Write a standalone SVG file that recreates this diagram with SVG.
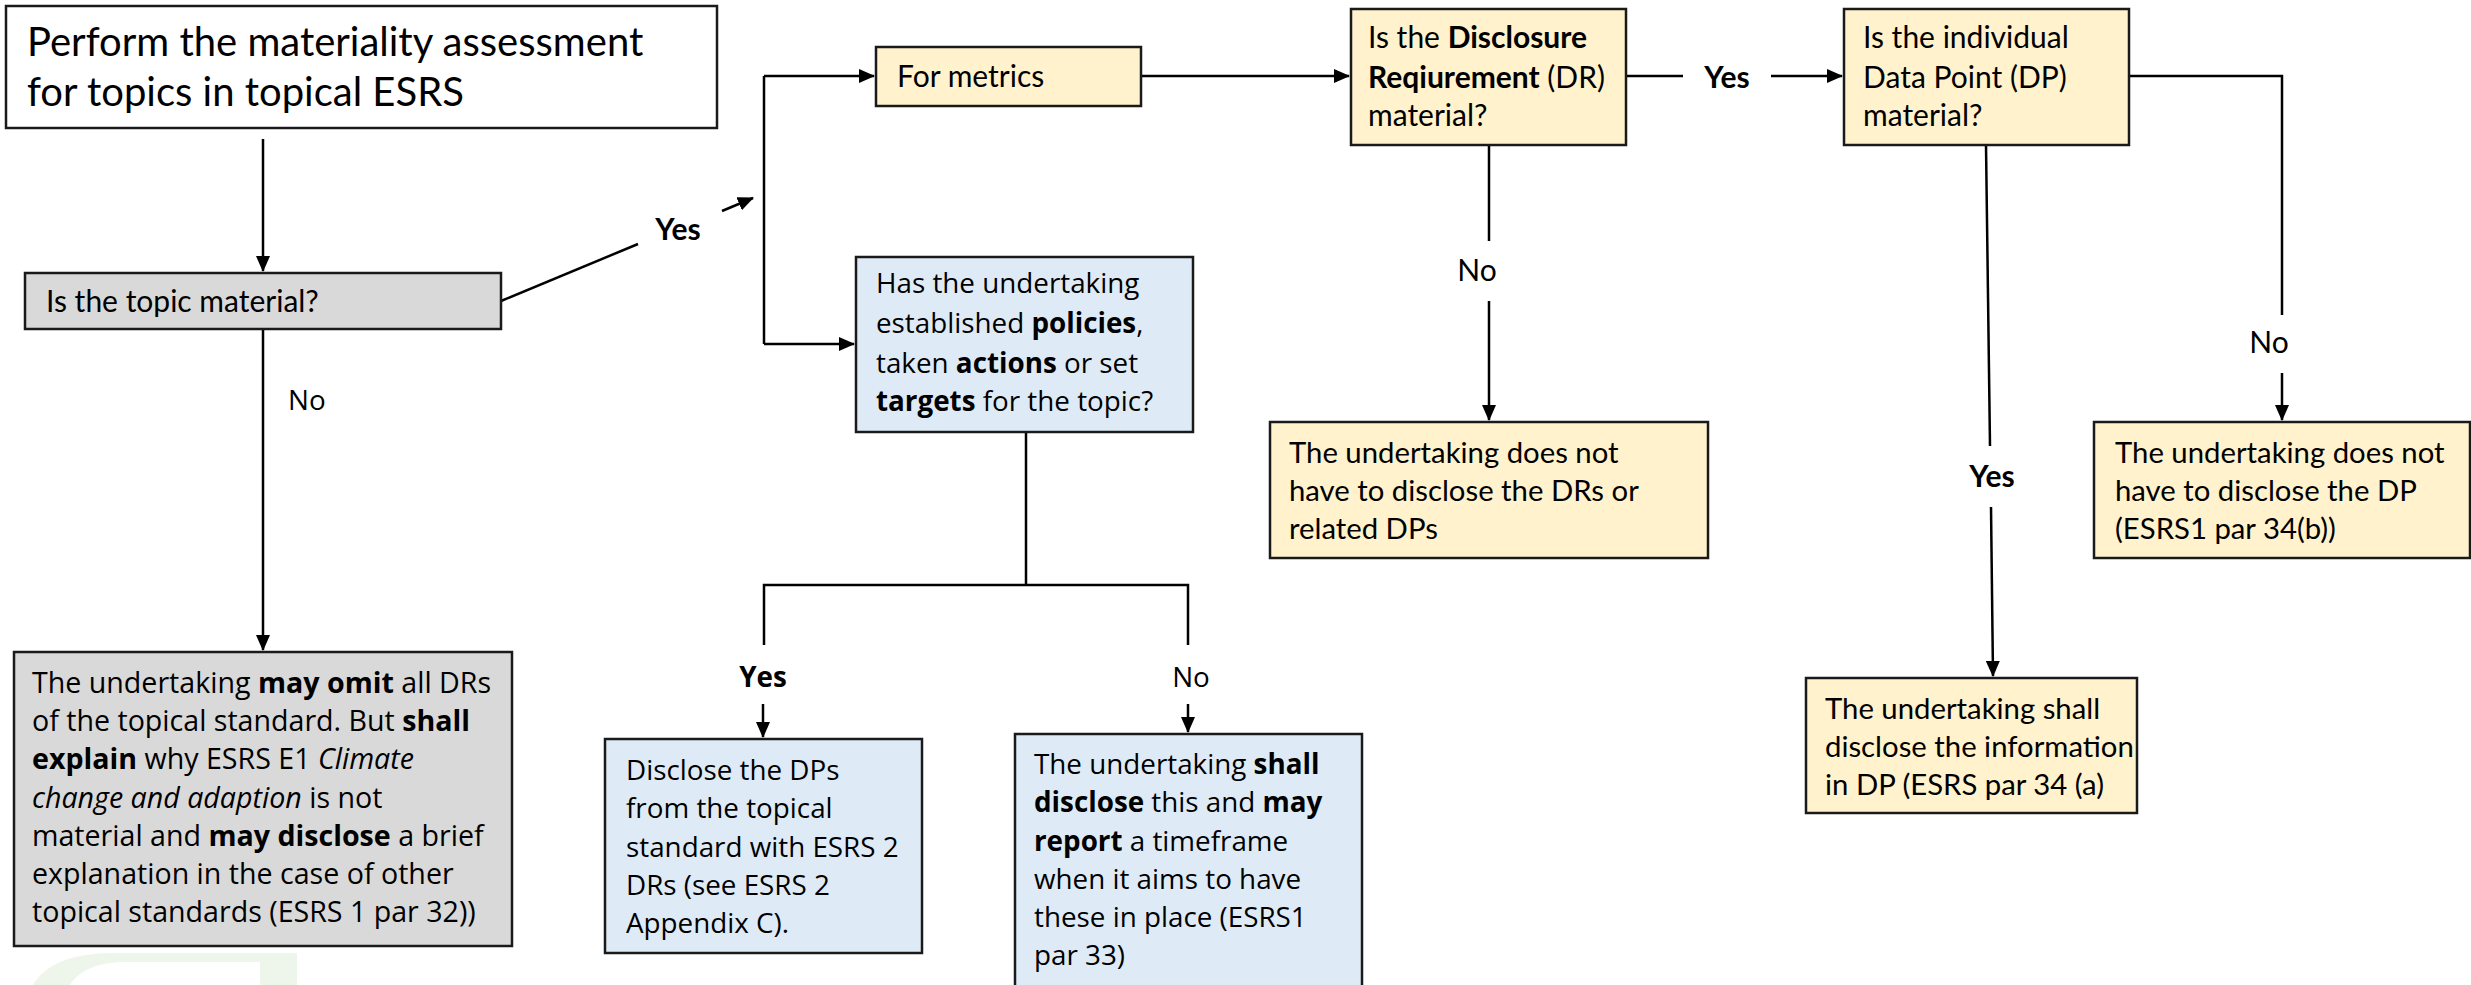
<svg xmlns="http://www.w3.org/2000/svg" width="2471" height="985" viewBox="0 0 2471 985">
<style>
.box{stroke:#1a1a1a;stroke-width:2.5}
.grey{fill:#d9d9d9}
.yel{fill:#fff2cc}
.blue{fill:#deebf7}
.c{font-family:Lato,"Liberation Sans",sans-serif;font-size:30px;fill:#000}
.r{font-size:29.3px}
.s{font-family:"Open Sans","Liberation Sans",sans-serif;font-size:27.8px;fill:#000}
.g{font-size:28.6px}
.b{font-weight:bold}
.i{font-style:italic}
.m{text-anchor:middle}
.conn{fill:none;stroke:#000;stroke-width:2.5}
</style>
<defs>
<marker id="ah" markerUnits="userSpaceOnUse" markerWidth="16" markerHeight="14" refX="15" refY="7" orient="auto">
<path d="M0,0 L16,7 L0,14 Z" fill="#000"/>
</marker>
</defs>
<rect width="2471" height="985" fill="#fff"/>
<path d="M33,985 C45,965 70,953 115,953 L297,953 L297,985 L260,985 L260,962 L125,962 C95,962 78,972 70,985 Z" fill="#eef5ea"/>

<g id="connectors">
<path class="conn" d="M263,139 V271" marker-end="url(#ah)"/>
<path class="conn" d="M501,301 L638,244"/>
<path class="conn" d="M722,211 L753,198" marker-end="url(#ah)"/>
<path class="conn" d="M764,76 V344"/>
<path class="conn" d="M764,76 H874" marker-end="url(#ah)"/>
<path class="conn" d="M764,344 H854" marker-end="url(#ah)"/>
<path class="conn" d="M1141,76 H1349" marker-end="url(#ah)"/>
<path class="conn" d="M1626,76 H1683"/>
<path class="conn" d="M1771,76 H1842" marker-end="url(#ah)"/>
<path class="conn" d="M1489,145 V241"/>
<path class="conn" d="M1489,301 V420" marker-end="url(#ah)"/>
<path class="conn" d="M2129,76 H2282 V315"/>
<path class="conn" d="M2282,373 V420" marker-end="url(#ah)"/>
<path class="conn" d="M1986,145 L1990,446"/>
<path class="conn" d="M1991,507 L1993,676" marker-end="url(#ah)"/>
<path class="conn" d="M263,329 V650" marker-end="url(#ah)"/>
<path class="conn" d="M1026,432 V585"/>
<path class="conn" d="M764,645 V585 H1188 V645"/>
<path class="conn" d="M763,704 V737" marker-end="url(#ah)"/>
<path class="conn" d="M1188,704 V732" marker-end="url(#ah)"/>
</g>

<g id="labels">
<text class="c b m" x="678" y="240">Yes</text>
<text class="s" x="288" y="410">No</text>
<text class="c m" x="1477" y="281">No</text>
<text class="c b m" x="1727" y="88">Yes</text>
<text class="c m" x="2269" y="353">No</text>
<text class="c b m" x="1992" y="487">Yes</text>
<text class="s b m" x="763" y="687">Yes</text>
<text class="s m" x="1191" y="687">No</text>
</g>

<g id="start">
<rect class="box" x="6" y="6" width="711" height="122" fill="#fff"/>
<text class="c" style="font-size:40px" x="27" y="56">Perform the materiality assessment</text>
<text class="c" style="font-size:40px" x="27" y="106">for topics in topical ESRS</text>
</g>

<g id="topic">
<rect class="box grey" x="25" y="273" width="476" height="56"/>
<text class="c" x="46" y="312">Is the topic material?</text>
</g>

<g id="omit">
<rect class="box grey" x="14" y="652" width="498" height="294"/>
<text class="s g" x="32" y="693">The undertaking <tspan class="b">may omit</tspan> all DRs</text>
<text class="s g" x="32" y="731">of the topical standard. But <tspan class="b">shall</tspan></text>
<text class="s g" x="32" y="769"><tspan class="b">explain</tspan> why ESRS E1 <tspan class="i">Climate</tspan></text>
<text class="s g" x="32" y="808"><tspan class="i">change and adaption</tspan> is not</text>
<text class="s g" x="32" y="846">material and <tspan class="b">may disclose</tspan> a brief</text>
<text class="s g" x="32" y="884">explanation in the case of other</text>
<text class="s g" x="32" y="922">topical standards (ESRS 1  par 32))</text>
</g>

<g id="metrics">
<rect class="box yel" x="876" y="47" width="265" height="59"/>
<text class="c" x="897" y="87">For metrics</text>
</g>

<g id="policies">
<rect class="box blue" x="856" y="257" width="337" height="175"/>
<text class="s" x="876" y="293">Has the undertaking</text>
<text class="s" x="876" y="333">established <tspan class="b">policies</tspan>,</text>
<text class="s" x="876" y="373">taken <tspan class="b">actions</tspan> or set</text>
<text class="s" x="876" y="411"><tspan class="b">targets</tspan> for the topic?</text>
</g>

<g id="disclose-dps">
<rect class="box blue" x="605" y="739" width="317" height="214"/>
<text class="s" x="626" y="780">Disclose the DPs</text>
<text class="s" x="626" y="818">from the topical</text>
<text class="s" x="626" y="857">standard with ESRS 2</text>
<text class="s" x="626" y="895">DRs (see ESRS 2</text>
<text class="s" x="626" y="933">Appendix C).</text>
</g>

<g id="shall-disclose">
<rect class="box blue" x="1015" y="734" width="347" height="260"/>
<text class="s" x="1034" y="774">The undertaking <tspan class="b">shall</tspan></text>
<text class="s" x="1034" y="812"><tspan class="b">disclose</tspan> this and <tspan class="b">may</tspan></text>
<text class="s" x="1034" y="851"><tspan class="b">report</tspan> a timeframe</text>
<text class="s" x="1034" y="889">when it aims to have</text>
<text class="s" x="1034" y="927">these in place (ESRS1</text>
<text class="s" x="1034" y="965">par 33)</text>
</g>

<g id="dr">
<rect class="box yel" x="1351" y="9" width="275" height="136"/>
<text class="c" x="1368" y="48">Is the <tspan class="b">Disclosure</tspan></text>
<text class="c" x="1368" y="88"><tspan class="b">Reqiurement</tspan> (DR)</text>
<text class="c" x="1368" y="126">material?</text>
</g>

<g id="dr-no">
<rect class="box yel" x="1270" y="422" width="438" height="136"/>
<text class="c r" x="1289" y="463">The undertaking does not</text>
<text class="c r" x="1289" y="501">have to disclose the DRs or</text>
<text class="c r" x="1289" y="539">related DPs</text>
</g>

<g id="dp">
<rect class="box yel" x="1844" y="9" width="285" height="136"/>
<text class="c" x="1863" y="48">Is the individual</text>
<text class="c" x="1863" y="88">Data Point (DP)</text>
<text class="c" x="1863" y="126">material?</text>
</g>

<g id="dp-no">
<rect class="box yel" x="2094" y="422" width="376" height="136"/>
<text class="c r" x="2115" y="463">The undertaking does not</text>
<text class="c r" x="2115" y="501">have to disclose the DP</text>
<text class="c r" x="2115" y="539">(ESRS1 par 34(b))</text>
</g>

<g id="dp-yes">
<rect class="box yel" x="1806" y="678" width="331" height="135"/>
<text class="c r" x="1825" y="719">The undertaking shall</text>
<text class="c r" x="1825" y="757">disclose the information</text>
<text class="c r" x="1825" y="795">in DP (ESRS par 34 (a)</text>
</g>
</svg>
